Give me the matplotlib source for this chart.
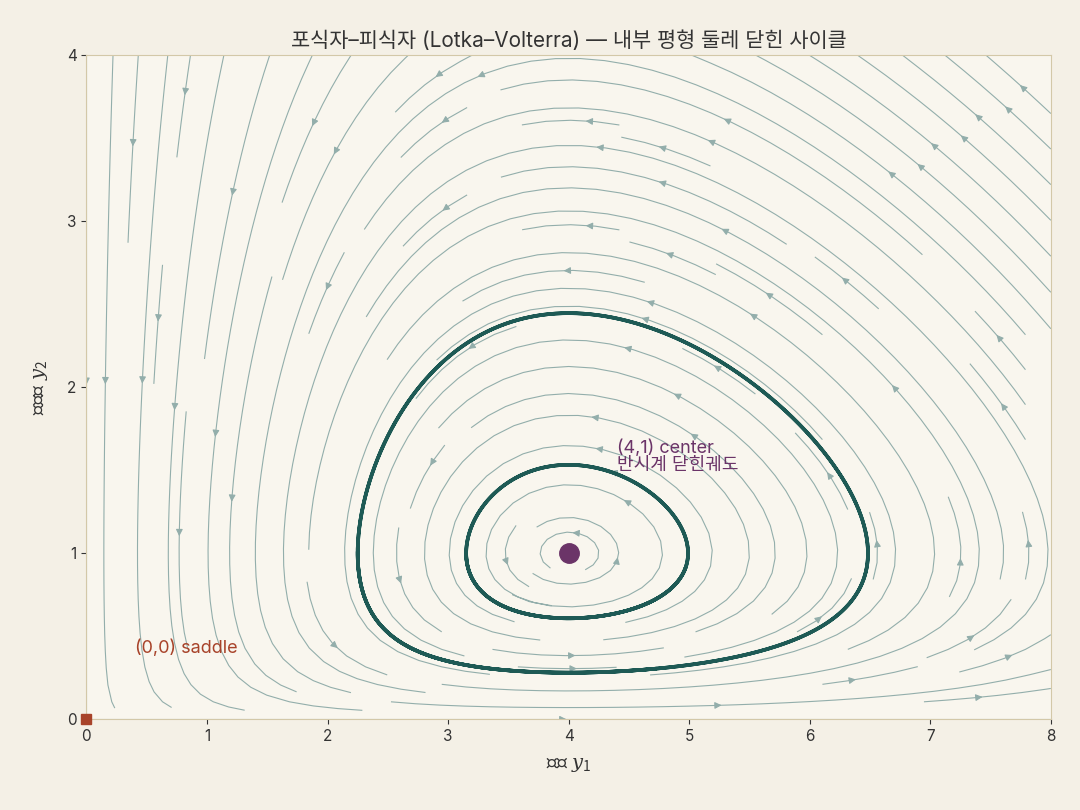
import numpy as np
import matplotlib
matplotlib.use("Agg")
import matplotlib.pyplot as plt

plt.rcParams['font.family'] = ['Inter', 'Noto Sans CJK KR', 'DejaVu Sans']
plt.rcParams['mathtext.fontset'] = 'custom'
plt.rcParams['mathtext.rm'] = 'Noto Sans CJK KR'
plt.rcParams['mathtext.it'] = 'DejaVu Serif:italic'
plt.rcParams['mathtext.bf'] = 'Noto Sans CJK KR:bold'

# Lotka-Volterra parameters
a, b, c, d = 1.0, 1.0, 4.0, 1.0
orbit_starts_x = [2.25, 3.15]
center = (4, 1)
saddle = (0, 0)

def f(y1, y2):
    return a*y1 - b*y1*y2, -c*y2 + d*y1*y2

fig = plt.figure(figsize=(10.8, 8.1), dpi=100, facecolor='#f4f0e6')
ax = fig.add_axes([0.08, 0.112, 0.893, 0.82])
ax.set_facecolor('#f9f6ee')

x = np.linspace(0, 8, 200)
y = np.linspace(0, 4, 200)
X, Y = np.meshgrid(x, y)
U, V = f(X, Y)
ax.streamplot(X, Y, U, V, density=1.3, color='#93aeab', linewidth=0.8, arrowsize=1.0)

def rk4(p, dt, n):
    pts = [p]
    for _ in range(n):
        k1 = np.array(f(*p)); k2 = np.array(f(*(p+dt/2*k1)))
        k3 = np.array(f(*(p+dt/2*k2))); k4 = np.array(f(*(p+dt*k3)))
        p = p + dt/6*(k1+2*k2+2*k3+k4)
        pts.append(p)
    return np.array(pts)

for x0 in orbit_starts_x:
    tr = rk4(np.array([x0, 1.0]), 0.002, 4000)
    ax.plot(tr[:, 0], tr[:, 1], color='#1e5a55', lw=2.6, zorder=3)

ax.plot(*center, 'o', color='#6b3468', ms=14, zorder=4)
ax.plot(*saddle, 's', color='#a8432a', ms=7, zorder=4, clip_on=False)
ax.text(4.4, 1.5, '(4,1) center\n반시계 닫힌궤도', color='#6b3468', fontsize=13, linespacing=1.0)
ax.text(0.4, 0.4, '(0,0) saddle', color='#a8432a', fontsize=13)

ax.set_xlim(0, 8); ax.set_ylim(0, 4)
ax.set_xticks(range(9)); ax.set_yticks(range(5))
for s in ax.spines.values():
    s.set_color('#d3c8a8')
ax.tick_params(colors='#333333', labelsize=11)
ax.set_xlabel('먹이 $y_1$', fontsize=14, color='#333333', labelpad=8)
ax.set_ylabel('포식자 $y_2$', fontsize=14, color='#333333', labelpad=12)
ax.set_title('포식자–피식자 (Lotka–Volterra) — 내부 평형 둘레 닫힌 사이클', fontsize=15, color='#333333')
fig.savefig('out.png', dpi=100, facecolor=fig.get_facecolor())
